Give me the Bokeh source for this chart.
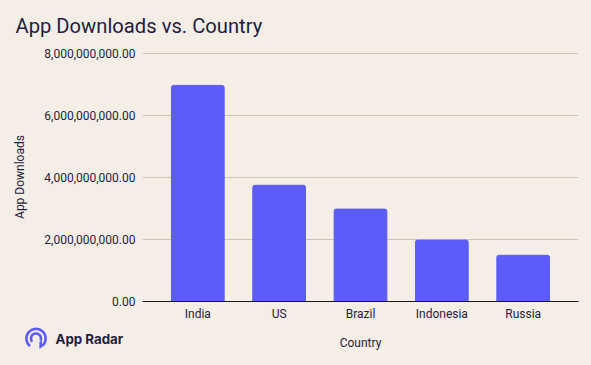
import numpy as np
from bokeh.plotting import figure
from bokeh.embed import file_html
from bokeh.resources import INLINE
from bokeh.core.properties import value
from bokeh.models import FactorRange, NumeralTickFormatter, Range1d

countries = ["India", "US", "Brazil", "Indonesia", "Russia"]
downloads = [6970000000, 3750000000, 2980000000, 1980000000, 1490000000]
y_ticks = [0, 2000000000, 4000000000, 6000000000, 8000000000]

BG = "#f4eee7"
INK = "#1f1d3f"
BAR = "#5c5cfb"
GRID = "#cfc4b4"

p = figure(width=591, height=365, output_backend="svg", toolbar_location=None,
           frame_width=436, frame_height=249,
           x_range=FactorRange(factors=countries, range_padding=0.072),
           y_range=Range1d(0, 8000000000 * 249 / 248),
           background_fill_color=BG, border_fill_color=BG,
           min_border_left=142, min_border_right=13, min_border_top=52, min_border_bottom=64,
           outline_line_color=None)

p.vbar(x=countries, top=downloads, width=0.648, color=BAR, border_radius=(2, 2, 0, 0))

p.xgrid.visible = False
p.ygrid.grid_line_color = GRID
p.ygrid.grid_line_width = 1
p.yaxis.ticker = y_ticks
p.yaxis.formatter = NumeralTickFormatter(format="0,0.00")
p.yaxis.axis_line_color = None
p.axis.major_tick_line_color = None
p.axis.minor_tick_line_color = None
p.axis.major_tick_in = 0
p.axis.major_tick_out = 0
p.axis.major_label_text_font = "Roboto"
p.axis.major_label_text_font_size = "12px"
p.axis.major_label_text_color = INK
p.axis.axis_label_text_font = "Roboto"
p.axis.axis_label_text_font_size = "12px"
p.axis.axis_label_text_font_style = "normal"
p.axis.axis_label_text_color = INK
p.xaxis.axis_line_color = "#1a1a1a"
p.xaxis.axis_line_width = 1
p.xaxis.axis_label = "Country"
p.yaxis.axis_label = "App Downloads"
p.xaxis.major_label_standoff = 5
p.yaxis.major_label_standoff = 7
p.xaxis.axis_label_standoff = 12
p.yaxis.axis_label_standoff = 14

# Transparent overlay figure, one unit per pixel, for the heading and the logo
o = figure(width=591, height=365, output_backend="svg", toolbar_location=None,
           x_range=Range1d(0, 591), y_range=Range1d(365, 0),
           x_axis_type=None, y_axis_type=None,
           min_border=0, outline_line_color=None,
           background_fill_alpha=0, border_fill_alpha=0,
           styles={"position": "absolute", "left": "0", "top": "0"})
o.xgrid.visible = False
o.ygrid.visible = False

o.text(x=[15], y=[25], text=["App Downloads vs. Country"], text_font=value("Roboto"),
       text_font_size="20.2px", text_color=INK, text_baseline="middle")
o.text(x=[55], y=[338], text=["App Radar"], text_font=value("Inter"), text_font_style="bold",
       text_font_size="13.3px", text_color=INK, text_baseline="middle")

def band(cx, cy, r, hw, a0, a1):
    t = np.radians(np.linspace(a0, a1, 40))
    xo = cx + (r + hw) * np.cos(t); yo = cy - (r + hw) * np.sin(t)
    xi = cx + (r - hw) * np.cos(t); yi = cy - (r - hw) * np.sin(t)
    return list(np.r_[xo, xi[::-1]]), list(np.r_[yo, yi[::-1]])

cx, cy = 35.5, 338
polys = [band(cx, cy, 9.6, 1.3, -50, 232), band(cx, cy, 5.0, 1.3, -25, 220)]
polys.append(([cx + 5.9, cx + 3.4, cx + 3.3, cx + 6.3], [cy + 2.0, cy + 3.2, cy + 10.2, cy + 8.8]))
for xs, ys in polys:
    o.patch(xs, ys, fill_color=BAR, line_color=None)

html = file_html([p, o], INLINE)
html = html.replace("</head>", "<style>html,body{background:%s;margin:0;}</style></head>" % BG, 1)
open("out.html", "w").write(html)
